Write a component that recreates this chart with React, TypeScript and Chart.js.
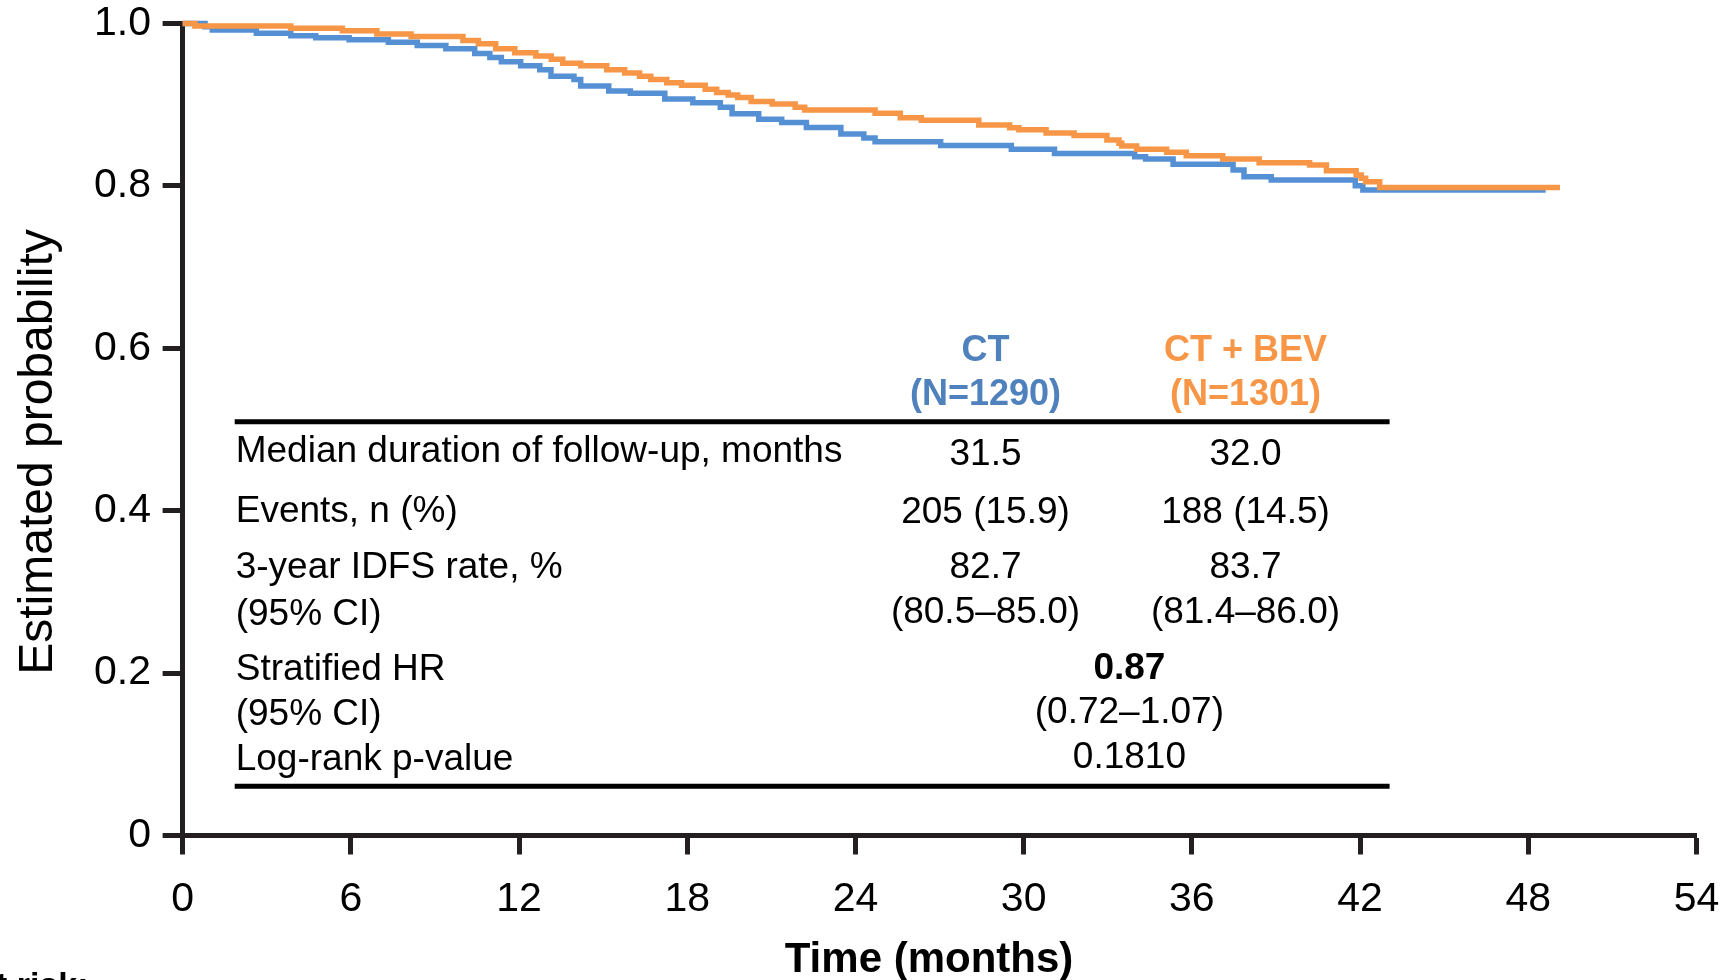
import React, { useEffect, useRef } from 'react';
import { Chart, registerables } from 'chart.js';

Chart.register(...registerables);

const W = 1735;
const H = 980;
const FONT = '"Liberation Sans", Arial, Helvetica, sans-serif';
const AXIS_COLOR = '#231f20';
const CT_LINE = '#5590d5';
const BEV_LINE = '#f79646';
const CT_TEXT = '#4f81bd';
const BEV_TEXT = '#f79646';

// Axis ticks
const monthTicks = [0, 6, 12, 18, 24, 30, 36, 42, 48, 54];
const probTicks = [0, 0.2, 0.4, 0.6, 0.8, 1.0];

// Kaplan–Meier estimates: CT arm (time in months, survival after each step)
const ctTimes = [0, 0.8, 1.06, 2.63, 3.86, 4.75, 5.94, 7.34, 8.37, 9.39, 10.42, 10.96, 11.37, 12.06, 12.74, 13.14, 13.96, 14.2, 15.2, 15.97, 17.2, 18.2, 19.18, 19.6, 20.55, 21.37, 22.25, 23.48, 24.3, 24.7, 27.04, 29.56, 31.1, 33.96, 34.35, 35.33, 37.47, 37.86, 38.83, 41.83, 42.1, 48.62];
const ctSurv = [1.0, 0.996, 0.992, 0.988, 0.985, 0.9825, 0.98, 0.977, 0.973, 0.969, 0.963, 0.958, 0.953, 0.948, 0.943, 0.935, 0.931, 0.923, 0.917, 0.914, 0.907, 0.9025, 0.897, 0.889, 0.882, 0.878, 0.872, 0.864, 0.859, 0.8545, 0.8496, 0.845, 0.84, 0.836, 0.833, 0.8266, 0.8196, 0.8114, 0.8073, 0.8003, 0.795, 0.795];

// Kaplan–Meier estimates: CT + BEV arm
const bevTimes = [0, 0.44, 3.86, 5.7, 6.93, 8.15, 10.0, 10.55, 11.17, 11.85, 12.6, 13.15, 13.56, 14.2, 15.13, 15.77, 16.3, 16.7, 17.27, 17.8, 18.64, 19.05, 19.46, 19.8, 20.28, 21.03, 21.85, 22.19, 24.7, 25.6, 26.35, 28.4, 29.5, 29.83, 30.8, 31.8, 32.97, 33.4, 33.5, 34.03, 35.1, 35.8, 37.1, 38.4, 40.2, 40.8, 41.86, 42.04, 42.2, 42.7, 49.13];
const bevSurv = [1.0, 0.997, 0.994, 0.991, 0.987, 0.984, 0.979, 0.975, 0.969, 0.964, 0.96, 0.956, 0.951, 0.948, 0.943, 0.939, 0.935, 0.931, 0.927, 0.924, 0.919, 0.915, 0.912, 0.909, 0.904, 0.901, 0.897, 0.8935, 0.8894, 0.884, 0.881, 0.875, 0.8717, 0.869, 0.865, 0.862, 0.8566, 0.8525, 0.849, 0.845, 0.8414, 0.837, 0.833, 0.8286, 0.8258, 0.8188, 0.8135, 0.8094, 0.8052, 0.798, 0.798];

// Summary table
const armNames = ['CT', 'CT + BEV'];
const armSizes = ['(N=1290)', '(N=1301)'];
const rowLabels = ['Median duration of follow-up, months', 'Events, n (%)', '3-year IDFS rate, %', '(95% CI)', 'Stratified HR', '(95% CI)', 'Log-rank p-value'];
const ctValues = ['31.5', '205 (15.9)', '82.7', '(80.5–85.0)'];
const bevValues = ['32.0', '188 (14.5)', '83.7', '(81.4–86.0)'];
const pooledValues = ['0.87', '(0.72–1.07)', '0.1810'];

const yTitle = 'Estimated probability';
const xTitle = 'Time (months)';
const riskTitle = 'Number at risk:';

const toPoints = (ts: number[], ss: number[]) => ts.map((t, i) => ({ x: t, y: ss[i] }));

const annotationPlugin = {
  id: 'kmAnnotations',
  afterDraw(chart: any) {
    const ctx: CanvasRenderingContext2D = chart.ctx;
    const area = chart.chartArea;
    ctx.save();

    // Y-axis title
    ctx.save();
    ctx.fillStyle = '#000';
    ctx.font = `48px ${FONT}`;
    ctx.textAlign = 'center';
    ctx.textBaseline = 'alphabetic';
    ctx.translate(area.left - 131, area.top + 428.5);
    ctx.rotate(-Math.PI / 2);
    ctx.fillText(yTitle, 0, 0);
    ctx.restore();

    // X-axis title
    ctx.fillStyle = '#000';
    ctx.font = `bold 42px ${FONT}`;
    ctx.textAlign = 'center';
    ctx.textBaseline = 'alphabetic';
    ctx.fillText(xTitle, 929, area.bottom + 136.5);

    // Risk table heading (runs off the bottom edge)
    ctx.font = `bold 34px ${FONT}`;
    ctx.textAlign = 'right';
    ctx.fillText(riskTitle, 88.5, 996);

    // Summary table
    const left = 234.7;
    const right = 1389.6;
    const ctX = 985.5;
    const bevX = 1245.5;
    const pooledX = 1129.4;

    ctx.strokeStyle = '#000';
    ctx.lineWidth = 5;
    ctx.beginPath();
    ctx.moveTo(left, 421.7);
    ctx.lineTo(right, 421.7);
    ctx.moveTo(left, 786.3);
    ctx.lineTo(right, 786.3);
    ctx.stroke();

    ctx.textAlign = 'center';
    ctx.font = `bold 36px ${FONT}`;
    ctx.fillStyle = CT_TEXT;
    ctx.fillText(armNames[0], ctX, 360.7);
    ctx.fillText(armSizes[0], ctX, 405);
    ctx.fillStyle = BEV_TEXT;
    ctx.fillText(armNames[1], bevX, 360.7);
    ctx.fillText(armSizes[1], bevX, 405);

    ctx.fillStyle = '#000';
    ctx.font = `37px ${FONT}`;
    ctx.textAlign = 'left';
    const labelBase = [461.7, 521.7, 578.3, 624.5, 680, 724.5, 769.5];
    rowLabels.forEach((lab, i) => ctx.fillText(lab, left + 1, labelBase[i]));

    ctx.textAlign = 'center';
    const valueBase = [465, 523.3, 578.3, 623.3];
    ctValues.forEach((v, i) => ctx.fillText(v, ctX, valueBase[i]));
    bevValues.forEach((v, i) => ctx.fillText(v, bevX, valueBase[i]));

    const pooledBase = [679.3, 723.3, 768.3];
    pooledValues.forEach((v, i) => {
      ctx.font = i === 0 ? `bold 37px ${FONT}` : `37px ${FONT}`;
      ctx.fillText(v, pooledX, pooledBase[i]);
    });

    ctx.restore();
  },
};

export default function App() {
  const canvasRef = useRef<HTMLCanvasElement>(null);

  useEffect(() => {
    const canvas = canvasRef.current;
    if (!canvas) return;

    const lineStyle = {
      borderWidth: 5.5,
      stepped: 'before' as const,
      pointRadius: 0,
      pointHoverRadius: 0,
      fill: false,
      clip: false as const,
      borderJoinStyle: 'miter' as const,
      borderCapStyle: 'butt' as const,
    };

    const chart = new Chart(canvas, {
      type: 'line',
      data: {
        datasets: [
          { label: 'CT + BEV', data: toPoints(bevTimes, bevSurv), borderColor: BEV_LINE, order: 0, ...lineStyle },
          { label: 'CT', data: toPoints(ctTimes, ctSurv), borderColor: CT_LINE, order: 1, ...lineStyle },
        ],
      },
      options: {
        responsive: false,
        animation: false,
        devicePixelRatio: 1,
        layout: { padding: { top: 23.5, right: 38.5, left: 0, bottom: 0 } },
        plugins: {
          legend: { display: false },
          tooltip: { enabled: false },
          title: { display: false },
        },
        scales: {
          x: {
            type: 'linear',
            min: 0,
            max: 54,
            afterBuildTicks: (s: any) => {
              s.ticks = monthTicks.map((v) => ({ value: v }));
            },
            afterFit: (s: any) => {
              s.height = H - 835.5;
              s.paddingLeft = 0;
              s.paddingRight = 0;
            },
            ticks: {
              autoSkip: false,
              maxRotation: 0,
              padding: 21,
              color: '#000',
              font: { family: FONT, size: 41, lineHeight: 1.2 },
            },
            grid: {
              drawOnChartArea: false,
              drawTicks: true,
              tickLength: 19,
              tickWidth: 5,
              tickColor: AXIS_COLOR,
            },
            border: { display: true, color: AXIS_COLOR, width: 5 },
          },
          y: {
            type: 'linear',
            min: 0,
            max: 1,
            afterBuildTicks: (s: any) => {
              s.ticks = probTicks.map((v) => ({ value: v }));
            },
            afterFit: (s: any) => {
              s.width = 182.6;
              s.paddingTop = 0;
              s.paddingBottom = 0;
            },
            ticks: {
              autoSkip: false,
              padding: 11.6,
              color: '#000',
              font: { family: FONT, size: 41, lineHeight: 1 },
              callback: (v: any) => (Number(v) === 0 ? '0' : Number(v).toFixed(1)),
            },
            grid: {
              drawOnChartArea: false,
              drawTicks: true,
              tickLength: 20,
              tickWidth: 5,
              tickColor: AXIS_COLOR,
            },
            border: { display: true, color: AXIS_COLOR, width: 5 },
          },
        },
      },
      plugins: [annotationPlugin],
    });

    return () => chart.destroy();
  }, []);

  return (
    <div style={{ position: 'fixed', left: 0, top: 0, width: W, height: H, background: '#fff', overflow: 'hidden' }}>
      <canvas ref={canvasRef} width={W} height={H} style={{ display: 'block' }} />
    </div>
  );
}
